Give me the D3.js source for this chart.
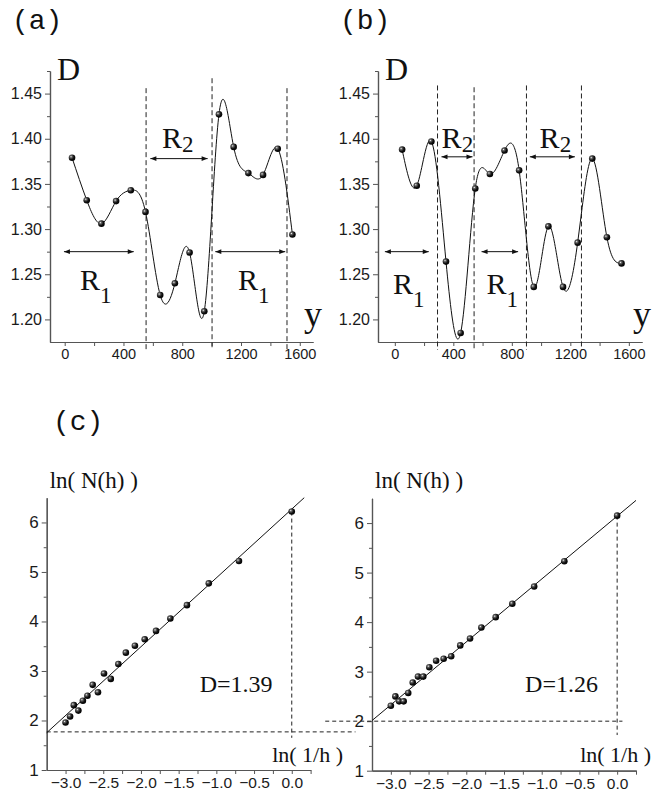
<!DOCTYPE html>
<html><head><meta charset="utf-8">
<script src="https://cdn.jsdelivr.net/npm/d3@7"></script>
<style>
body{margin:0;background:#fff}
.tick text{font-family:"Liberation Sans",Arial,sans-serif;fill:#1a1a1a}
.serif{font-family:"Liberation Serif","Times New Roman",serif;fill:#111}
.mono{font-family:"Liberation Mono","Courier New",monospace;fill:#111}
</style>
</head><body>
<svg id="chart" width="656" height="797"></svg>
<script>
// ---------- data ----------
const sampleY = [50,150,250,350,450,550,650,750,850,950,1050,1150,1250,1350,1450,1550];
const dimA = [1.379,1.332,1.306,1.331,1.343,1.319,1.227,1.240,1.274,1.209,1.427,1.391,1.362,1.360,1.389,1.294];
const dimB = [1.388,1.348,1.397,1.264,1.185,1.345,1.361,1.387,1.365,1.236,1.303,1.236,1.285,1.378,1.291,1.262];
const boundsA = [554,1003,1513];
const boundsB = [292,542,900,1276];
const boundTopA = [1.456,1.467,1.456];
const boundTopB = [1.459,1.457,1.459,1.459];
const arrowsA = [[-5,470,1.275],[583,973,1.378],[1025,1501,1.275]];
const arrowsB = [[-68,232,1.275],[319,531,1.380],[593,843,1.275],[923,1231,1.380]];
const regionNameA = ["1","2","1"];
const regionNameB = ["1","2","1","2"];
const regionXA = [104,662,1180];
const regionXB = [-12,320,626,990];
const regionDA = [1.233,1.390,1.233];
const regionDB = [1.228,1.390,1.228,1.390];
const yTicksMajor = [0,400,800,1200,1600];
const yTicksMinor = [200,600,1000,1400];
const dTicksMajor = [1.20,1.25,1.30,1.35,1.40,1.45];

const lnInvH = [-3.00,-2.94,-2.89,-2.83,-2.77,-2.71,-2.64,-2.57,-2.49,-2.40,-2.30,-2.20,-2.08,-1.95,-1.80,-1.61,-1.39,-1.10,-0.70,0.00];
const lnNLeft = [1.96,2.08,2.31,2.20,2.40,2.50,2.72,2.57,2.95,2.84,3.14,3.37,3.51,3.64,3.81,4.06,4.33,4.77,5.22,6.22];
const lnNRight = [2.31,2.50,2.40,2.40,2.57,2.78,2.90,2.90,3.09,3.22,3.26,3.31,3.53,3.67,3.89,4.10,4.37,4.72,5.23,6.15];
const fitLeft = {slope:1.39, intercept:6.27, label:"D=1.39", hLevel:1.77};
const fitRight = {slope:1.27, intercept:6.14, label:"D=1.26", hLevel:2.00};
const lnXMajor = [-3.0,-2.5,-2.0,-1.5,-1.0,-0.5,0.0];
const lnXMinor = [-2.75,-2.25,-1.75,-1.25,-0.75,-0.25,0.25];
const lnYMajor = [1,2,3,4,5,6];
const lnYMinor = [1.5,2.5,3.5,4.5,5.5];

// ---------- drawing ----------
const svg = d3.select("#chart");
const defs = svg.append("defs");
const grad = defs.append("radialGradient").attr("id","ball").attr("cx","35%").attr("cy","35%").attr("r","70%");
grad.append("stop").attr("offset","0%").attr("stop-color","#f4f4f4");
grad.append("stop").attr("offset","22%").attr("stop-color","#666");
grad.append("stop").attr("offset","60%").attr("stop-color","#111");
grad.append("stop").attr("offset","100%").attr("stop-color","#000");
defs.append("marker").attr("id","arr").attr("viewBox","0 0 10 10").attr("refX",10).attr("refY",5)
  .attr("markerWidth",7).attr("markerHeight",6).attr("markerUnits","userSpaceOnUse")
  .attr("orient","auto-start-reverse")
  .append("path").attr("d","M0,1L10,5L0,9Z").attr("fill","#111");

const axisColor = "#555";
function styleAxis(g){
  g.select(".domain").attr("stroke",axisColor).attr("stroke-width",1.2);
  g.selectAll(".tick line").attr("stroke",axisColor);
}

function topPanel(cfg){
  const x = d3.scaleLinear().domain(cfg.xDomain).range(cfg.xRange);
  const y = d3.scaleLinear().domain([1.175,1.475]).range([342,71]);
  const g = svg.append("g");
  const yMinor = d3.range(0,12).map(i=>+(1.2+0.025*i).toFixed(3)).filter(v=>!dTicksMajor.includes(v));
  g.append("g").attr("transform",`translate(${cfg.xRange[0]},0)`)
    .call(d3.axisLeft(y).tickValues(yMinor).tickSize(3).tickSizeOuter(0).tickFormat(""))
    .call(styleAxis);
  g.append("g").attr("transform",`translate(${cfg.xRange[0]},0)`)
    .call(d3.axisLeft(y).tickValues(dTicksMajor).tickSize(5).tickPadding(3).tickSizeOuter(0).tickFormat(d3.format(".2f")))
    .call(styleAxis).selectAll("text").attr("font-size",16);
  g.append("g").attr("transform",`translate(0,342)`)
    .call(d3.axisBottom(x).tickValues(yTicksMinor).tickSize(4).tickSizeOuter(0).tickFormat(""))
    .call(styleAxis);
  g.append("g").attr("transform",`translate(0,342)`)
    .call(d3.axisBottom(x).tickValues(yTicksMajor).tickSize(4).tickPadding(3).tickSizeOuter(0).tickFormat(d3.format("d")))
    .call(styleAxis).selectAll("text").attr("font-size",14.5);
  g.selectAll(".bound").data(cfg.bounds).join("line")
    .attr("x1",d=>x(d)).attr("x2",d=>x(d))
    .attr("y1",(d,i)=>y(cfg.boundTop[i])).attr("y2",350)
    .attr("stroke","#222").attr("stroke-width",1).attr("stroke-dasharray","5,3");
  g.selectAll(".arrow").data(cfg.arrows).join("line")
    .attr("x1",d=>x(d[0])).attr("x2",d=>x(d[1])).attr("y1",d=>y(d[2])).attr("y2",d=>y(d[2]))
    .attr("stroke","#111").attr("stroke-width",1)
    .attr("marker-start","url(#arr)").attr("marker-end","url(#arr)");
  cfg.names.forEach((n,i)=>{
    const t = g.append("text").attr("class","serif").attr("x",x(cfg.regionX[i])).attr("y",y(cfg.regionD[i])).attr("font-size",30);
    t.append("tspan").text("R");
    t.append("tspan").attr("font-size",23).attr("dy", n==="1"?13:4).text(n);
  });
  const pts = sampleY.map((s,i)=>[s,cfg.values[i]]);
  g.append("path").datum(pts)
    .attr("d",d3.line().x(d=>x(d[0])).y(d=>y(d[1])).curve(d3.curveNatural))
    .attr("fill","none").attr("stroke","#111").attr("stroke-width",1);
  g.selectAll(".pt").data(pts).join("circle")
    .attr("cx",d=>x(d[0])).attr("cy",d=>y(d[1])).attr("r",3.3).attr("fill","url(#ball)");
  g.append("text").attr("class","serif").attr("x",cfg.xRange[0]+7).attr("y",80).attr("font-size",32).text("D");
  g.append("text").attr("class","serif").attr("x",cfg.xRange[1]-9).attr("y",326).attr("font-size",36).text("y");
  g.append("text").attr("class","mono").attr("x",cfg.xRange[0]-38).attr("y",29).attr("font-size",28).text(cfg.tag);
}

topPanel({xDomain:[-100,1690],xRange:[50,313],values:dimA,bounds:boundsA,boundTop:boundTopA,arrows:arrowsA,
  names:regionNameA,regionX:regionXA,regionD:regionDA,tag:"(a)"});
topPanel({xDomain:[-115,1690],xRange:[378,642],values:dimB,bounds:boundsB,boundTop:boundTopB,arrows:arrowsB,
  names:regionNameB,regionX:regionXB,regionD:regionDB,tag:"(b)"});

function bottomPanel(cfg){
  const x = d3.scaleLinear().domain([-3.25,0.25]).range(cfg.xRange);
  const y = d3.scaleLinear().domain([1,6.5]).range(cfg.yRange);
  const g = svg.append("g");
  const ax = cfg.xRange[0], ay = cfg.yRange[0];
  g.append("g").attr("transform",`translate(${ax},0)`)
    .call(d3.axisLeft(y).tickValues(lnYMinor).tickSize(3).tickSizeOuter(0).tickFormat(""))
    .call(styleAxis);
  g.append("g").attr("transform",`translate(${ax},0)`)
    .call(d3.axisLeft(y).tickValues(lnYMajor).tickSize(5).tickPadding(3).tickSizeOuter(0).tickFormat(d3.format("d")))
    .call(styleAxis).selectAll("text").attr("font-size",17);
  g.append("g").attr("transform",`translate(0,${ay})`)
    .call(d3.axisBottom(x).tickValues(lnXMinor).tickSize(4).tickSizeOuter(0).tickFormat(""))
    .call(styleAxis);
  g.append("g").attr("transform",`translate(0,${ay})`)
    .call(d3.axisBottom(x).tickValues(lnXMajor).tickSize(4).tickPadding(3).tickSizeOuter(0).tickFormat(d3.format(".1f")))
    .call(styleAxis).selectAll("text").attr("font-size",15.5);
  g.append("line").attr("x1",x(cfg.hFrom)).attr("x2",x(cfg.hTo))
    .attr("y1",y(cfg.fit.hLevel)).attr("y2",y(cfg.fit.hLevel))
    .attr("stroke","#222").attr("stroke-dasharray","4,3");
  g.append("line").attr("x1",x(0)).attr("x2",x(0))
    .attr("y1",y(cfg.values[cfg.values.length-1])).attr("y2",y(cfg.vBottom))
    .attr("stroke","#222").attr("stroke-dasharray","4,3");
  const xEnd = Math.min(0.25,(6.5-cfg.fit.intercept)/cfg.fit.slope);
  g.append("line").attr("x1",x(-3.25)).attr("y1",y(cfg.fit.intercept-3.25*cfg.fit.slope))
    .attr("x2",x(xEnd)).attr("y2",y(cfg.fit.intercept+xEnd*cfg.fit.slope))
    .attr("stroke","#111").attr("stroke-width",1);
  g.selectAll(".pt").data(lnInvH.map((v,i)=>[v,cfg.values[i]])).join("circle")
    .attr("cx",d=>x(d[0])).attr("cy",d=>y(d[1])).attr("r",3.3).attr("fill","url(#ball)");
  g.append("text").attr("class","serif").attr("x",ax+3).attr("y",488).attr("font-size",23).text("ln( N(h) )");
  g.append("text").attr("class","serif").attr("x",x(-1.22)).attr("y",692).attr("font-size",24).text(cfg.fit.label);
  g.append("text").attr("class","serif").attr("x",x(cfg.lnLabelX)).attr("y",762).attr("font-size",22).text("ln( 1/h )");
}
bottomPanel({xRange:[46.7,310.6],yRange:[770,497.7],values:lnNLeft,fit:fitLeft,hFrom:-3.25,hTo:0.845,vBottom:1.65,lnLabelX:-0.26});
bottomPanel({xRange:[372,636],yRange:[770.7,498.3],values:lnNRight,fit:fitRight,hFrom:-3.87,hTo:0.07,vBottom:1.72,lnLabelX:-0.49});
svg.append("text").attr("class","mono").attr("x",53).attr("y",430).attr("font-size",28).text("(c)");
</script>
</body></html>
